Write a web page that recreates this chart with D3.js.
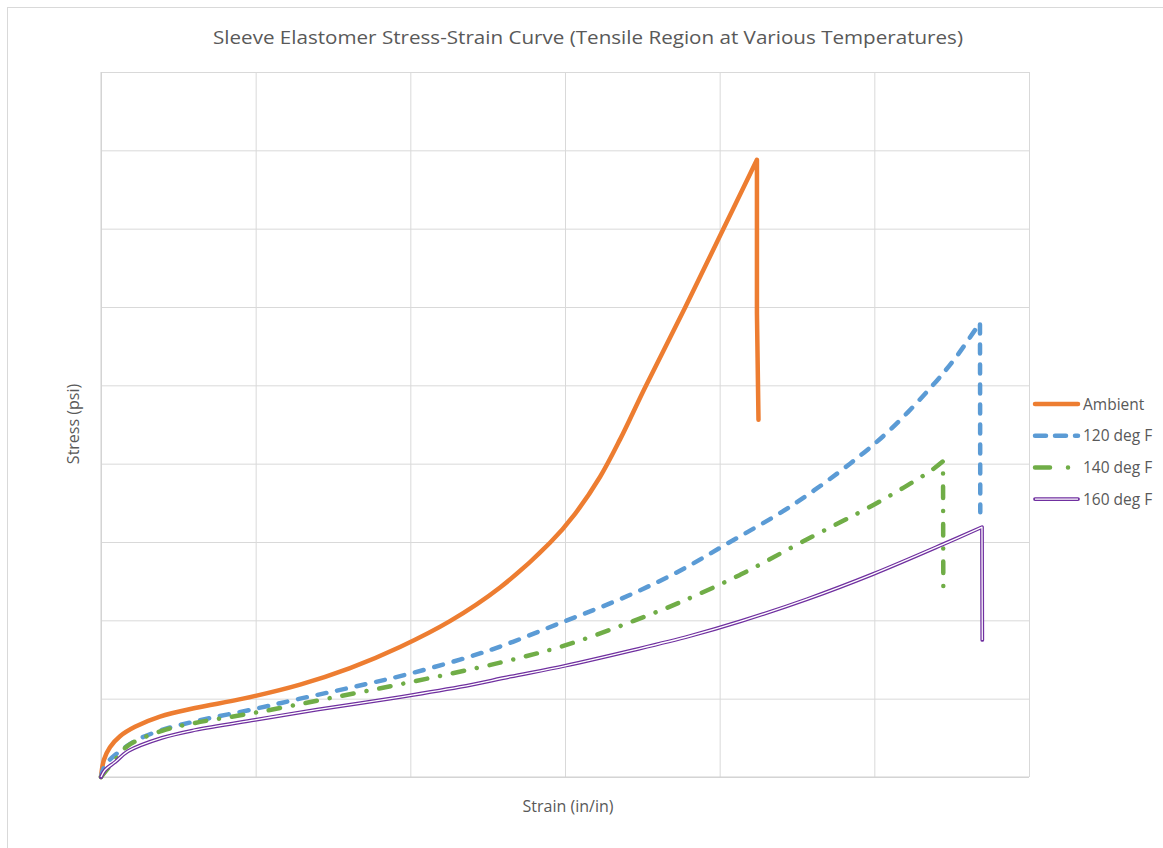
<!DOCTYPE html>
<html>
<head>
<meta charset="utf-8">
<script src="https://cdn.jsdelivr.net/npm/d3@7"></script>
<style>
  body { margin: 0; background: #fff; }
  text { font-family: "Open Sans", "Noto Sans", sans-serif; fill: #595959; }
  .grid line { stroke: #d9d9d9; stroke-width: 1; }
  .grid path { display: none; }
</style>
</head>
<body>
<script>
"use strict";

// series names (legend order)
const seriesNames = ["Ambient", "120 deg F", "140 deg F", "160 deg F"];

// tick positions (labels are hidden on the original chart)
const xTicks = [0, 1, 2, 3, 4, 5, 6];
const yTicks = [0, 100, 200, 300, 400, 500, 600, 700, 800, 900];

// [strain, stress], rising part
const ambient = [
  [0, 0], [0.019, 22], [0.058, 38], [0.123, 52], [0.22, 64], [0.381, 77],
  [0.608, 88], [0.918, 100], [1.287, 118], [1.61, 139], [1.933, 166],
  [2.256, 199], [2.58, 242], [2.903, 299], [3.065, 336], [3.226, 383],
  [3.356, 431], [3.517, 497], [3.776, 599], [4.015, 696], [4.241, 788]
];
const ambientDrop = [[4.241, 592], [4.251, 456]];

const f120 = [
  [0, 0], [0.026, 15], [0.091, 28], [0.22, 46], [0.394, 60], [0.608, 71],
  [0.996, 87], [1.287, 100], [1.61, 114], [1.998, 132], [2.515, 162],
  [3.0, 199], [3.356, 227], [3.711, 260], [4.067, 300], [4.455, 345],
  [4.843, 400], [5.101, 443], [5.373, 499], [5.528, 536], [5.683, 580]
];
const f120Drop = [[5.685, 338]];

const f140 = [
  [0, 0], [0.091, 22], [0.175, 40], [0.394, 59], [0.608, 69], [0.996, 82],
  [1.461, 100], [1.998, 121], [2.58, 146], [3.0, 168], [3.44, 199],
  [3.744, 223], [4.131, 258], [4.532, 300], [4.991, 347], [5.211, 372],
  [5.373, 392], [5.444, 403]
];
const f140Drop = [[5.446, 241]];

const f160 = [
  [0, 0], [0.026, 9], [0.091, 19], [0.175, 33], [0.394, 50], [0.608, 60],
  [0.996, 73], [1.397, 86], [1.869, 100], [2.321, 115], [2.644, 128],
  [3.0, 142], [3.44, 162], [3.808, 180], [4.138, 199], [4.565, 227],
  [4.991, 259], [5.444, 297], [5.696, 319]
];
const f160Drop = [[5.698, 175]];

const width = 1163, height = 848;
const margin = { top: 72, right: 134, bottom: 71, left: 101 };
const w = width - margin.left - margin.right,
      h = height - margin.top - margin.bottom;

const svg = d3.select("body").append("svg")
  .attr("width", width)
  .attr("height", height);

// chart frame
svg.append("rect")
  .attr("x", 7.5).attr("y", 7.5)
  .attr("width", 1170).attr("height", 870)
  .attr("fill", "#fff")
  .attr("stroke", "#d9d9d9");

const g = svg.append("g")
  .attr("transform", "translate(" + margin.left + "," + margin.top + ")");

const x = d3.scaleLinear().domain([0, 6]).range([0, w]);
const y = d3.scaleLinear().domain([0, 900]).range([h, 0]);

g.append("g")
  .attr("class", "grid")
  .attr("transform", "translate(0," + h + ")")
  .call(d3.axisBottom(x).tickValues(xTicks).tickSize(-h).tickFormat(""));

g.append("g")
  .attr("class", "grid")
  .call(d3.axisLeft(y).tickValues(yTicks).tickSize(-w).tickFormat(""));

// axis lines
g.append("line").attr("x1", 0).attr("x2", 0).attr("y1", 0).attr("y2", h)
  .attr("stroke", "#d0d0d0");
g.append("line").attr("x1", 0).attr("x2", w).attr("y1", h).attr("y2", h)
  .attr("stroke", "#d0d0d0");

const line = d3.line()
  .x(d => x(d[0]))
  .y(d => y(d[1]))
  .curve(d3.curveCatmullRom.alpha(0.5));

// smooth rise then straight drop at failure
function pathFor(rise, drop) {
  let p = line(rise);
  drop.forEach(d => { p += "L" + x(d[0]) + "," + y(d[1]); });
  return p;
}

const styles = [
  { color: "#ED7D31", dash: null, width: 4.5 },
  { color: "#5B9BD5", dash: "9,11", width: 4.5 },
  { color: "#70AD47", dash: "11.5,13,0.01,13", width: 4.5 },
  { color: "#7030A0", dash: null, width: 3.8, double: true }
];

const curves = [
  [ambient, ambientDrop],
  [f120, f120Drop],
  [f140, f140Drop],
  [f160, f160Drop]
];

curves.forEach(function (c, i) {
  let s = styles[i];
  let d = pathFor(c[0], c[1]);
  g.append("path")
    .attr("d", d)
    .attr("fill", "none")
    .attr("stroke", s.color)
    .attr("stroke-width", s.width)
    .attr("stroke-linecap", "round")
    .attr("stroke-linejoin", "round")
    .attr("stroke-dasharray", s.dash);
  if (s.double) {
    g.append("path")
      .attr("d", d)
      .attr("fill", "none")
      .attr("stroke", "#fff")
      .attr("stroke-width", 1.3)
      .attr("stroke-linejoin", "round");
  }
});

// title
svg.append("text")
  .attr("x", 588).attr("y", 44)
  .attr("text-anchor", "middle")
  .attr("font-size", 19)
  .attr("textLength", 750)
  .attr("lengthAdjust", "spacingAndGlyphs")
  .text("Sleeve Elastomer Stress-Strain Curve (Tensile Region at Various Temperatures)");

// axis titles
svg.append("text")
  .attr("x", 568).attr("y", 812)
  .attr("text-anchor", "middle")
  .attr("font-size", 16)
  .text("Strain (in/in)");

svg.append("text")
  .attr("transform", "translate(79,424) rotate(-90)")
  .attr("text-anchor", "middle")
  .attr("font-size", 16)
  .text("Stress (psi)");

// legend
const legend = svg.append("g").attr("transform", "translate(1033,404)");
seriesNames.forEach(function (name, i) {
  let s = styles[i];
  let row = legend.append("g").attr("transform", "translate(0," + (i * 31.7) + ")");
  row.append("line")
    .attr("x1", 2).attr("x2", 45)
    .attr("stroke", s.color)
    .attr("stroke-width", s.width)
    .attr("stroke-linecap", "round")
    .attr("stroke-dasharray", i === 1 ? "11,9" : (i === 2 ? "15,18,0.01,20" : null));
  if (s.double) {
    row.append("line").attr("x1", 2).attr("x2", 45)
      .attr("stroke", "#fff").attr("stroke-width", 1.3);
  }
  row.append("text")
    .attr("x", 50).attr("y", 5.5)
    .attr("font-size", 15.5)
    .text(name);
});
</script>
</body>
</html>
